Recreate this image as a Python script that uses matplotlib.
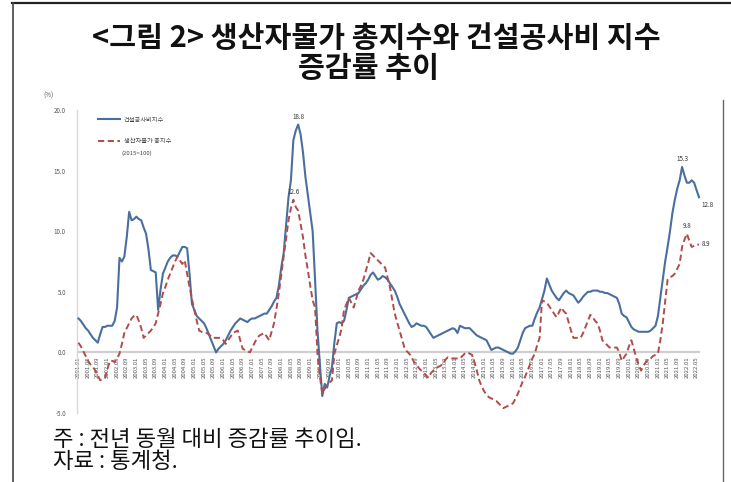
import matplotlib
matplotlib.use("Agg")
import matplotlib.pyplot as plt
from matplotlib.lines import Line2D

plt.rcParams['font.family'] = ['Noto Sans CJK KR', 'DejaVu Sans']

# monthly periods 2001.01 - 2022.06
start_year, start_month = 2001, 1
n_months = 258
months = [f"{start_year + (start_month - 1 + i) // 12}.{(start_month - 1 + i) % 12 + 1:02d}" for i in range(n_months)]

# 건설공사비지수 (YoY %)
construction = [
    2.8, 2.6, 2.3, 2.0, 1.8, 1.5, 1.2, 1.0, 0.8, 1.5, 2.1, 2.1,
    2.2, 2.2, 2.2, 2.6, 3.7, 7.8, 7.5, 7.9, 9.5, 11.6, 10.9, 11.0,
    11.2, 11.0, 10.9, 10.3, 9.8, 8.5, 6.8, 6.7, 6.6, 3.5, 5.2, 6.5,
    7.0, 7.5, 7.8, 8.0, 8.0, 7.9, 8.3, 8.7, 8.7, 8.6, 6.5, 4.0,
    3.5, 3.0, 2.8, 2.6, 2.4, 2.0, 1.5, 1.0, 0.5, 0.0, 0.3, 0.5,
    0.7, 1.0, 1.4, 1.8, 2.1, 2.4, 2.6, 2.8, 2.7, 2.6, 2.5, 2.7,
    2.8, 2.8, 2.9, 3.0, 3.1, 3.2, 3.2, 3.5, 3.8, 4.2, 4.5, 5.5,
    7.0, 8.2, 10.5, 12.8, 14.2, 17.5, 18.3, 18.8, 18.0, 16.5, 14.5, 13.0,
    11.5, 10.0, 6.0, 1.8, -1.0, -3.6, -2.6, -2.9, -2.0, -1.2, 0.8, 2.4,
    2.5, 2.4, 2.6, 3.5, 4.5, 4.6, 4.7, 4.8, 4.9, 5.2, 5.5, 5.7,
    6.0, 6.4, 6.6, 6.3, 6.0, 6.1, 6.3, 6.2, 6.0, 5.7, 5.4, 5.1,
    4.6, 4.0, 3.6, 3.2, 2.8, 2.4, 2.1, 2.2, 2.4, 2.3, 2.2, 2.2,
    2.1, 1.8, 1.5, 1.2, 1.3, 1.4, 1.5, 1.6, 1.7, 1.8, 1.9, 2.0,
    1.9, 1.6, 2.2, 2.1, 2.0, 2.0, 2.0, 1.8, 1.6, 1.4, 1.3, 1.2,
    1.1, 1.0, 0.6, 0.2, 0.3, 0.4, 0.4, 0.3, 0.2, 0.1, 0.0, -0.1,
    -0.1, 0.1, 0.4, 1.0, 1.6, 2.0, 2.1, 2.2, 2.2, 2.8, 3.3, 3.7,
    4.4, 5.1, 6.1, 5.6, 5.1, 4.8, 4.5, 4.3, 4.6, 4.9, 5.1, 4.9,
    4.8, 4.7, 4.4, 4.1, 4.3, 4.6, 4.8, 5.0, 5.0, 5.1, 5.1, 5.1,
    5.0, 5.0, 4.9, 4.9, 4.8, 4.7, 4.6, 4.5, 4.0, 3.2, 3.0, 2.9,
    2.5, 2.1, 1.9, 1.8, 1.7, 1.7, 1.7, 1.7, 1.7, 1.8, 2.0, 2.2,
    3.0, 4.5, 6.0, 7.5, 8.7, 10.0, 11.5, 12.6, 13.5, 14.2, 15.3, 14.6,
    14.0, 14.0, 14.2, 14.0, 13.4, 12.8,
]

# 생산자물가 총지수 (YoY %)
ppi = [
    0.8, 0.5, 0.1, -0.3, -0.7, -1.0, -1.2, -1.5, -1.9, -2.3, -2.2, -2.1,
    -1.4, -0.7, -0.7, -0.8, -0.5, -0.1, 0.7, 1.6, 2.0, 2.4, 2.8, 3.0,
    3.1, 2.6, 2.0, 1.2, 1.4, 1.6, 1.8, 2.1, 2.4, 3.2, 4.0, 4.9,
    5.4, 6.0, 6.5, 7.0, 7.5, 7.9, 7.6, 7.3, 7.6, 6.5, 5.4, 4.4,
    3.5, 2.6, 1.8, 1.7, 1.6, 1.6, 1.5, 1.3, 1.2, 1.2, 1.2, 1.2,
    1.0, 0.7, 1.0, 1.3, 1.6, 1.7, 1.8, 1.0, 0.3, 0.2, 0.1, 0.0,
    0.4, 0.8, 1.2, 1.4, 1.5, 1.6, 1.3, 1.0, 1.7, 2.4, 3.6, 4.9,
    6.4, 7.9, 9.4, 10.9, 11.9, 12.6, 12.0, 11.7, 10.6, 9.5, 8.0, 6.8,
    5.5, 4.3, 3.7, -0.1, -2.0, -3.4, -3.0, -2.7, -2.5, -2.3, -0.1, 0.6,
    1.2, 2.0, 3.5, 4.0, 4.5, 4.1, 3.7, 4.4, 5.1, 5.5, 6.0, 6.7,
    7.4, 8.2, 8.0, 7.8, 7.6, 7.4, 7.2, 7.0, 6.2, 5.4, 4.3, 3.2,
    2.5, 1.8, 1.1, 0.4, 0.1, -0.1, -0.4, -0.8, -1.0, -1.3, -1.5, -1.7,
    -1.9, -2.1, -1.7, -1.5, -1.3, -1.2, -1.1, -0.9, -0.6, -0.4, -0.5, -0.5,
    -0.5, -0.5, -0.5, -0.3, -0.1, 0.0, -0.1, -0.2, -0.8, -1.5, -2.3, -2.8,
    -3.2, -3.5, -3.7, -3.8, -3.9, -4.0, -4.2, -4.4, -4.6, -4.5, -4.4, -4.3,
    -4.2, -3.8, -3.4, -2.9, -2.4, -2.0, -1.5, -1.0, -0.5, -0.1, 0.6, 1.2,
    4.3, 4.2, 4.1, 3.8, 3.5, 3.2, 2.9, 3.3, 3.7, 3.4, 3.2, 2.5,
    1.8, 1.2, 1.2, 1.2, 1.2, 1.6, 2.1, 2.6, 3.1, 2.9, 2.6, 2.4,
    1.8, 1.0, 0.8, 0.6, 0.4, 0.4, 0.4, 0.4, 0.0, -0.7, -0.4, -0.1,
    0.5, 1.0, 0.3, -0.4, -1.0, -1.5, -1.1, -0.8, -0.6, -0.5, -0.3, -0.2,
    -0.1, 1.0, 2.4, 4.2, 6.0, 6.2, 6.3, 6.5, 6.9, 7.3, 8.7, 9.3,
    9.8, 9.2, 8.7, 8.8, 8.9, 8.9,
]

yticks = [-5.0, 0.0, 5.0, 10.0, 15.0, 20.0]
tick_step = 4  # x labels every 4 months
labels_construction = {"2008.08": "18.8", "2021.11": "15.3", "2022.06": "12.8"}
labels_ppi = {"2008.06": "12.6", "2022.01": "9.8", "2022.06": "8.9"}

series_names = ["건설공사비지수", "생산자물가 총지수"]
base_note = "(2015=100)"

W, H = 731, 482
fig = plt.figure(figsize=(W / 100, H / 100), dpi=100)

def fx(px):
    return px / W

def fy(py):
    return 1 - py / H

ax = fig.add_axes([fx(77), fy(413), fx(705) - fx(77), fy(110) - fy(413)])
x = list(range(n_months))

c_blue = '#4a6f9f'
c_red = '#b04c4a'

ax.axhline(0, color='#cfcfcf', lw=1.6, zorder=1, xmin=0.002, xmax=0.99)
l1, = ax.plot(x, construction, color=c_blue, lw=1.5, zorder=3)
l2, = ax.plot(x, ppi, color=c_red, lw=1.4, ls=(0, (3.2, 1.8)), zorder=4)

ax.set_xlim(-0.6, 259.5)
ax.set_ylim(-5, 20)
for s in ['top', 'right', 'bottom']:
    ax.spines[s].set_visible(False)
ax.spines['left'].set_color('#d8d8d8')
ax.spines['left'].set_linewidth(1.0)
ax.set_xticks([])
ax.set_yticks(yticks)
ax.set_yticklabels([f"{v:.1f}" for v in yticks], fontsize=4.5, color='#555555')
ax.tick_params(axis='y', length=0, pad=8)
ax.text(-0.045, 1.04, "(%)", transform=ax.transAxes, fontsize=4.5, color='#555555', ha='center')

# x tick labels at zero line
for i in range(0, n_months, tick_step):
    ax.text(i, -0.35, months[i], rotation=90, ha='center', va='top',
            fontsize=4.3, color='#555555', zorder=2)

# value labels
for k, txt in labels_construction.items():
    i = months.index(k)
    if k == months[-1]:
        ax.annotate(txt, (i, construction[i]), xytext=(2, -7), textcoords='offset points',
                    fontsize=4.5, color='#333333', ha='left')
    else:
        ax.annotate(txt, (i, construction[i]), xytext=(0, 4), textcoords='offset points',
                    fontsize=4.5, color='#333333', ha='center')
for k, txt in labels_ppi.items():
    i = months.index(k)
    if k == months[-1]:
        ax.annotate(txt, (i, ppi[i]), xytext=(2, -1), textcoords='offset points',
                    fontsize=4.5, color='#333333', ha='left')
    else:
        ax.annotate(txt, (i, ppi[i]), xytext=(0, 4), textcoords='offset points',
                    fontsize=4.5, color='#333333', ha='center')

# legend
leg = ax.legend([l1, l2], series_names, loc='upper left', bbox_to_anchor=(0.025, 1.0),
                frameon=False, fontsize=4.5, handlelength=3.5, labelspacing=2.2,
                handletextpad=0.6)
for t in leg.get_texts():
    t.set_color('#444444')
fig.text(fx(122), fy(153), base_note, fontsize=4.3, color='#444444', va='center')

# title
fig.text(fx(376), fy(38), "<그림 2> 생산자물가 총지수와 건설공사비 지수", fontsize=21,
         fontweight='bold', ha='center', va='center', color='#111111')
fig.text(fx(369), fy(68), "증감률 추이", fontsize=21, fontweight='bold',
         ha='center', va='center', color='#111111')

# notes
fig.text(fx(53), fy(439), "주 : 전년 동월 대비 증감률 추이임.", fontsize=16, ha='left', va='center', color='#111111')
fig.text(fx(53), fy(462), "자료 : 통계청.", fontsize=16, ha='left', va='center', color='#111111')

# document frame
fig.add_artist(Line2D([fx(12), fx(731)], [fy(3), fy(3)], color='#222222', lw=1.6))
fig.add_artist(Line2D([fx(13), fx(13)], [fy(3), fy(482)], color='#444444', lw=1.2))
fig.add_artist(Line2D([fx(723), fx(723)], [fy(100), fy(482)], color='#666666', lw=1.0))

fig.savefig("out.png", dpi=100)
